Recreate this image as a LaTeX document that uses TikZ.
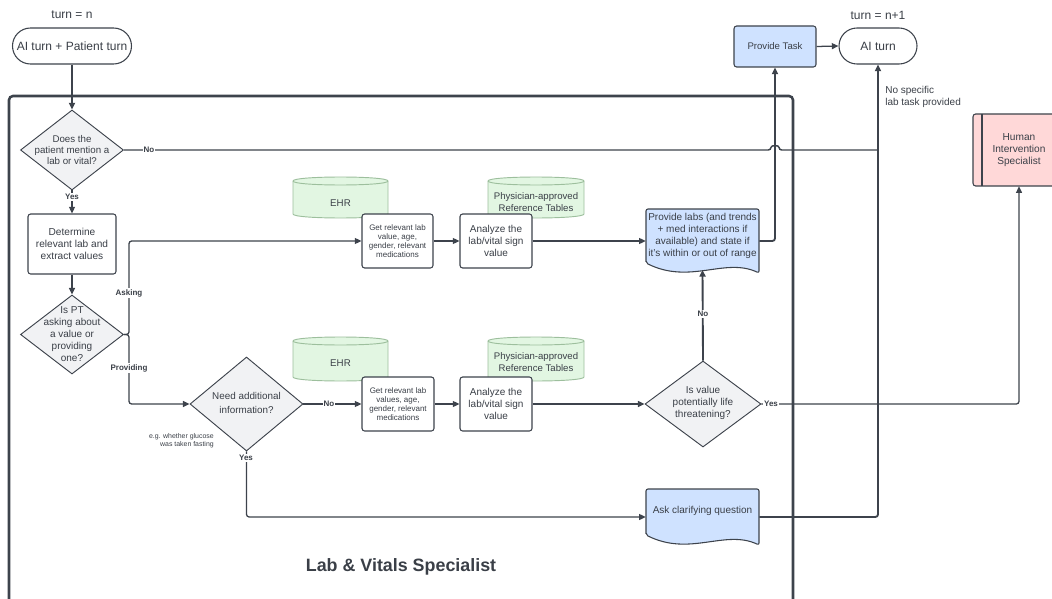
\documentclass[tikz,border=0pt]{standalone}
\usepackage{fontspec}
\setmainfont{Liberation Sans}
\usetikzlibrary{shapes.geometric,arrows.meta}
\definecolor{ln}{HTML}{3D434C}
\definecolor{tx}{HTML}{3A3F47}
\definecolor{dfill}{HTML}{F1F2F4}
\definecolor{bfill}{HTML}{CFE2FF}
\definecolor{gfill}{HTML}{E2F6E2}
\definecolor{gline}{HTML}{9DBF9D}
\definecolor{pfill}{HTML}{FFD8D8}
\newcommand\mycyl[4]{%
 \filldraw[draw=gline, fill=gfill, line width=0.7pt] (#1,{#3+4}) -- (#1,{#4-4}) .. controls (#1,{#4+1.33}) and (#2,{#4+1.33}) .. (#2,{#4-4}) -- (#2,{#3+4}) .. controls (#2,{#3-1.33}) and (#1,{#3-1.33}) .. (#1,{#3+4}) -- cycle;
 \draw[draw=gline, line width=0.7pt] (#1,{#3+4}) .. controls (#1,{#3+9.33}) and (#2,{#3+9.33}) .. (#2,{#3+4});}
\begin{document}
\begin{tikzpicture}[x=0.75pt,y=-0.75pt,
  every node/.style={text=tx, font=\fontsize{7.5}{9}\selectfont, align=center, inner sep=0pt},
  term/.style={draw=ln, line width=0.8pt, rounded corners=13.5pt, minimum height=27pt, fill=white, font=\fontsize{9}{11}\selectfont},
  boxst/.style={draw=ln, line width=0.8pt, rounded corners=2pt, fill=white},
  dia/.style={diamond, draw=ln, line width=0.7pt, fill=dfill},
  dtx/.style={font=\fontsize{7.3}{8.6}\selectfont},
  docst/.style={draw=ln, line width=0.8pt, fill=bfill, rounded corners=1.5pt},
  conn/.style={draw=ln, line width=0.95pt, rounded corners=2pt, -{Triangle[length=5pt,width=4.5pt]}},
  thick conn/.style={conn, line width=1.4pt},
  plainln/.style={draw=ln, line width=1.1pt, rounded corners=2pt},
  yn/.style={font=\bfseries\fontsize{6}{7}\selectfont, fill=white, inner sep=0.6pt},
]
\useasboundingbox (0,0) rectangle (1052,599);
% container
\draw[draw=ln, line width=1.9pt, rounded corners=3pt] (9,615) -- (9,96) -- (793,96) -- (793,615);

% top terminals
\node[font=\fontsize{9}{11}\selectfont] (tn) at (72,15) {turn = n};
\node[term, minimum width=89.25pt] (start) at (72,46) {AI turn + Patient turn};
\node[font=\fontsize{9}{11}\selectfont] (tn1) at (878,15) {turn = n+1};
\node[term, minimum width=58.5pt] (ai) at (878,46) {AI turn};
\node[boxst, fill=bfill, minimum width=61.5pt, minimum height=30.75pt, font=\fontsize{7.2}{9}\selectfont] (pt) at (775,46.5) {Provide Task};
\node[anchor=west, align=left] (nst) at (885,97) {No specific\\lab task provided};

% human
\draw[draw=ln, fill=pfill, line width=0.8pt, rounded corners=2pt] (973,114) rectangle (1060,186);
\draw[draw=ln, line width=0.8pt] (982,114) -- (982,186);
\node[minimum width=55pt, minimum height=54pt, font=\fontsize{7.6}{9}\selectfont] (hum) at (1019,150) {Human\\Intervention\\Specialist};

% left column
\node[dia, minimum width=77.25pt, minimum height=60pt] (d1) at (72,150) {};
\node[dtx] (d1t) at (72,150) {Does the\\patient mention a\\lab or vital?};
\node[boxst, minimum width=66pt, minimum height=45pt, font=\fontsize{7.6}{9}\selectfont] (det) at (72,244) {Determine\\relevant lab and\\extract values};
\node[dia, minimum width=77.25pt, minimum height=59.25pt] (d2) at (72,334.5) {};
\node[dtx, font=\fontsize{7.5}{9}\selectfont] (d2t) at (72,334) {Is PT\\asking about\\a value or\\providing\\one?};
\node[dia, minimum width=84.75pt, minimum height=70.5pt] (d3) at (246.5,404) {};
\node[dtx, font=\fontsize{7.4}{10}\selectfont] (d3t) at (246.5,403) {Need additional\\information?};
\node[anchor=east, align=right, font=\fontsize{5.2}{6.2}\selectfont] (eg) at (214,441) {e.g. whether glucose\\was taken fasting};

% cylinders
\mycyl{293}{388}{177}{218}
\mycyl{488}{584}{177}{218}
\mycyl{293}{388}{337}{381}
\mycyl{488}{584}{337}{381}
\node[font=\fontsize{7.3}{9}\selectfont] (ehr1) at (340.5,203) {EHR};
\node[font=\fontsize{7.2}{9}\selectfont] (ref1) at (536,202) {Physician-approved\\Reference Tables};
\node[font=\fontsize{7.3}{9}\selectfont] (ehr2) at (340.5,363) {EHR};
\node[font=\fontsize{7.2}{9}\selectfont] (ref2) at (536,362) {Physician-approved\\Reference Tables};

% process boxes
\node[boxst, minimum width=53.25pt, minimum height=40.5pt, font=\fontsize{6}{6.75}\selectfont] (get1) at (397.5,241) {Get relevant lab\\value, age,\\gender, relevant\\medications};
\node[boxst, minimum width=54pt, minimum height=40.5pt, font=\fontsize{7.5}{9}\selectfont] (an1) at (496,241) {Analyze the\\lab/vital sign\\value};
\node[boxst, minimum width=54pt, minimum height=40.5pt, font=\fontsize{6}{6.75}\selectfont] (get2) at (398,404) {Get relevant lab\\values, age,\\gender, relevant\\medications};
\node[boxst, minimum width=54pt, minimum height=40.5pt, font=\fontsize{7.5}{9}\selectfont] (an2) at (496,404) {Analyze the\\lab/vital sign\\value};

% documents
\draw[docst] (646,263) -- (646,209) -- (759,209) -- (759,273) .. controls (725,257) and (690,285) .. (646,263) -- cycle;
\node[minimum width=84.75pt, minimum height=48pt] (pl) at (702.5,241) {};
\node (plt) at (702.5,236) {Provide labs (and trends\\+ med interactions if\\available) and state if\\it's within or out of range};
\draw[docst] (646,535) -- (646,489) -- (759,489) -- (759,545) .. controls (725,529) and (690,557) .. (646,535) -- cycle;
\node[minimum width=84.75pt, minimum height=42pt] (ask) at (702.5,517) {};
\node (askt) at (702.5,511) {Ask clarifying question};

\node[dia, minimum width=87pt, minimum height=64.5pt] (d4) at (703,404) {};
\node[dtx, font=\fontsize{7.5}{9}\selectfont] (d4t) at (703,403) {Is value\\potentially life\\threatening?};

% title
\node[font=\bfseries\fontsize{13.4}{16}\selectfont] (title) at (401,567) {Lab \& Vitals Specialist};

% connectors
\draw[thick conn] (start.south) -- (d1.north);
\draw[plainln] (d1.east) -- (771,150) .. controls (771,145) and (779,145) .. (779,150) -- (878,150);
\node[yn] (l1) at (149,150) {No};
\draw[conn] (d1.south) -- (det.north);
\node[yn] (l2) at (72,197) {Yes};
\draw[conn] (det.south) -- (d2.north);
\draw[conn] (d2.east) -- (129,334.5) |- (get1.west);
\draw[conn] (d2.east) -- (129,334.5) |- (d3.west);
\node[yn] (l3) at (129,293) {Asking};
\node[yn] (l4) at (129,368) {Providing};
\draw[conn] (d3.east) -- (get2.west);
\node[yn] (l5) at (329,404) {No};
\draw[conn] (get1) -- (an1);
\draw[conn] (an1) -- (pl.west);
\draw[conn] (get2) -- (an2);
\draw[conn] (an2) -- (d4.west);
\draw[thick conn] (d4.north) -- ([yshift=2.5pt]pl.south);
\node[yn] (l6) at (703,314) {No};
\draw[conn] (d4.east) -| (hum.south);
\node[yn] (l7) at (771,404) {Yes};
\draw[thick conn] (pl.east) -| (pt.south);
\draw[conn] (pt.east) -- (ai.west);
\draw[thick conn] (ask.east) -| (ai.south);
\draw[conn] (d3.south) |- (ask.west);
\node[yn] (l8) at (246,458) {Yes};
\end{tikzpicture}
\end{document}
